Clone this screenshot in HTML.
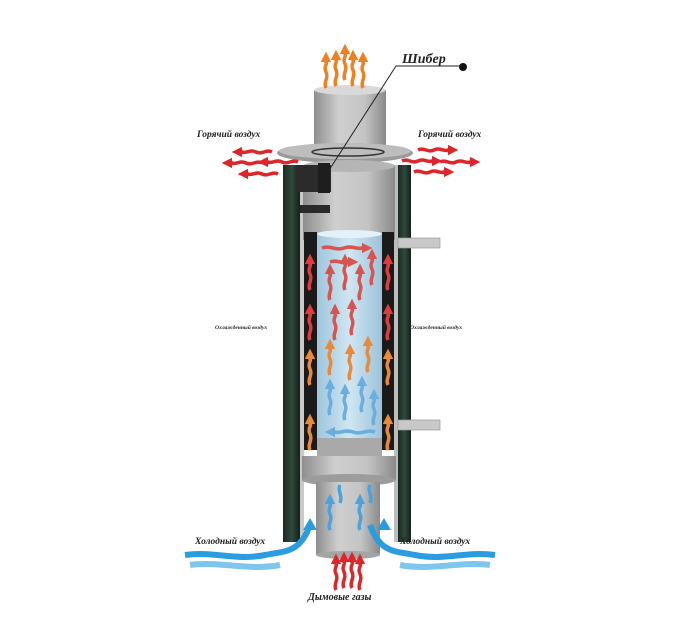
<!DOCTYPE html>
<html><head><meta charset="utf-8"><style>
html,body{margin:0;padding:0;background:#fff;width:700px;height:643px;overflow:hidden}
svg{display:block}
text{font-family:"Liberation Serif",serif;font-style:italic;font-weight:bold;fill:#222}
</style></head><body>
<svg width="700" height="643" viewBox="0 0 700 643" xmlns="http://www.w3.org/2000/svg">
<defs>
<linearGradient id="gr" x1="0" x2="1"><stop offset="0" stop-color="#8e8e8e"/><stop offset="0.35" stop-color="#cfcfcf"/><stop offset="0.7" stop-color="#c4c4c4"/><stop offset="1" stop-color="#8a8a8a"/></linearGradient>
<linearGradient id="gl" x1="0" x2="1"><stop offset="0" stop-color="#9fc6dc"/><stop offset="0.5" stop-color="#cfe6f2"/><stop offset="1" stop-color="#9cc3da"/></linearGradient>
<linearGradient id="dk" x1="0" x2="1"><stop offset="0" stop-color="#1b2a22"/><stop offset="0.5" stop-color="#2f4a3c"/><stop offset="1" stop-color="#15201a"/></linearGradient>
<marker id="ar" viewBox="0 0 10 10" refX="3" refY="5" markerWidth="3" markerHeight="3" orient="auto"><path d="M0,0L10,5L0,10z" fill="context-stroke"/></marker>
<g id="up"><path d="M0,0 c-3,-6 3,-10 0,-16 c-3,-6 2,-8 0,-10 l0,-3" fill="none" stroke-width="3.5" marker-end="url(#ar)"/></g>
<g id="wl"><path d="M0,0 c-6,-3 -10,3 -16,0 c-6,-3 -10,2 -14,0 l-3,0" fill="none" stroke-width="3.5" marker-end="url(#ar)"/></g>
<g id="wr"><path d="M0,0 c6,-3 10,3 16,0 c6,-3 10,2 14,0 l3,0" fill="none" stroke-width="3.5" marker-end="url(#ar)"/></g>
</defs>

<rect x="283" y="165" width="17" height="377" fill="url(#dk)"/>
<rect x="398" y="165" width="13" height="377" fill="url(#dk)"/>
<rect x="300" y="165" width="4" height="377" fill="#c9c9c9"/>
<rect x="394" y="165" width="4" height="377" fill="#bdbdbd"/>

<rect x="314" y="90" width="72" height="65" fill="url(#gr)"/>
<ellipse cx="350" cy="90" rx="36" ry="5" fill="#d9d9d9"/>
<ellipse cx="345" cy="153" rx="68" ry="10" fill="#9a9a9a"/>
<ellipse cx="345" cy="151" rx="66" ry="8" fill="#bdbdbd"/>
<ellipse cx="348" cy="152" rx="36" ry="4" fill="none" stroke="#333" stroke-width="1.5"/>

<path d="M303,165 L395,165 L395,240 L303,240 Z" fill="url(#gr)"/>
<ellipse cx="349" cy="166" rx="46" ry="6" fill="#b5b5b5"/>
<rect x="300" y="205" width="30" height="8" fill="#2a2a2a"/>
<rect x="296" y="165" width="35" height="27" fill="#2b2b2b"/>
<rect x="318" y="163" width="12" height="30" fill="#1e1e1e"/>

<rect x="304" y="232" width="13" height="218" fill="#1a1a1a"/>
<rect x="382" y="232" width="12" height="218" fill="#1a1a1a"/>
<rect x="317" y="232" width="65" height="210" fill="url(#gl)"/>
<ellipse cx="349.5" cy="234" rx="32.5" ry="4" fill="#e4f2f8"/>
<rect x="317" y="438" width="65" height="20" fill="#a9a9a9"/>

<rect x="398" y="238" width="42" height="10" fill="#c8c8c8" stroke="#999" stroke-width="0.7"/>
<rect x="398" y="420" width="42" height="10" fill="#c8c8c8" stroke="#999" stroke-width="0.7"/>

<rect x="302" y="456" width="94" height="24" fill="url(#gr)"/>
<ellipse cx="349" cy="480" rx="47" ry="6" fill="#9c9c9c"/>
<rect x="316" y="482" width="64" height="73" fill="url(#gr)"/>
<ellipse cx="348" cy="555" rx="32" ry="4" fill="#a5a5a5"/>

<g stroke="#d9534f">
<use href="#up" x="330" y="300"/><use href="#up" x="345" y="290"/><use href="#up" x="360" y="300"/><use href="#up" x="372" y="285"/>
<use href="#up" x="335" y="340"/><use href="#up" x="352" y="335"/>
</g>
<g stroke="#d9534f"><path d="M322,248 c8,-3 14,3 22,0 c8,-3 14,2 18,0 l3,0" fill="none" stroke-width="3.5" marker-end="url(#ar)"/><path d="M330,262 c8,-3 14,3 18,0 l3,0" fill="none" stroke-width="3.5" marker-end="url(#ar)"/></g>
<g stroke="#e98a3a"><use href="#up" x="330" y="375"/><use href="#up" x="350" y="380"/><use href="#up" x="368" y="372"/></g>
<g stroke="#6aaedf"><use href="#up" x="330" y="415"/><use href="#up" x="345" y="420"/><use href="#up" x="362" y="412"/><use href="#up" x="374" y="425"/></g>
<g stroke="#6aaedf"><path d="M375,432 c-8,-3 -14,3 -22,0 c-8,-3 -14,2 -18,0 l-3,0" fill="none" stroke-width="3.5" marker-end="url(#ar)"/></g>
<g stroke="#e23b3b"><use href="#up" x="310" y="290"/><use href="#up" x="310" y="340"/><use href="#up" x="388" y="290"/><use href="#up" x="388" y="340"/></g>
<g stroke="#e98a3a"><use href="#up" x="310" y="385"/><use href="#up" x="388" y="385"/><use href="#up" x="310" y="450"/><use href="#up" x="388" y="450"/></g>
<g stroke="#4aa3df"><use href="#up" x="330" y="530"/><use href="#up" x="360" y="530"/><path d="M340,485 c-3,6 3,10 0,18" fill="none" stroke-width="3.5"/><path d="M370,485 c-3,6 3,10 0,18" fill="none" stroke-width="3.5"/></g>
<g stroke="#f07f22"><use href="#up" x="326" y="88"/><use href="#up" x="336" y="86"/><use href="#up" x="345" y="80"/><use href="#up" x="353" y="86"/><use href="#up" x="363" y="88"/></g>
<g stroke="#e0252a"><use href="#up" x="336" y="590"/><use href="#up" x="344" y="588"/><use href="#up" x="352" y="588"/><use href="#up" x="360" y="590"/></g>
<g stroke="#e0252a">
<use href="#wl" x="272" y="152"/><use href="#wl" x="262" y="163"/><use href="#wl" x="278" y="174"/><use href="#wl" x="298" y="162"/>
<use href="#wr" x="418" y="150"/><use href="#wr" x="440" y="162"/><use href="#wr" x="414" y="172"/><use href="#wr" x="402" y="161"/>
</g>
<g fill="none" stroke-width="6">
<path d="M185,555 c30,-4 50,6 80,0 c20,-4 35,-2 45,-30" stroke="#2a9de0"/>
<path d="M190,565 c30,-4 60,6 90,0" stroke="#7ec6ee"/>
<path d="M495,555 c-30,-4 -50,6 -80,0 c-20,-4 -35,-2 -45,-30" stroke="#2a9de0"/>
<path d="M490,565 c-30,-4 -60,6 -90,0" stroke="#7ec6ee"/>
</g>
<path d="M303,530 l7,-12 l7,12z" fill="#2a9de0"/>
<path d="M377,530 l7,-12 l7,12z" fill="#2a9de0"/>

<path d="M324,178 L396,66 L463,66" fill="none" stroke="#222" stroke-width="1"/>
<circle cx="463" cy="67" r="4" fill="#111"/>
<text x="402" y="63" font-size="14">Шибер</text>
<text x="197" y="137" font-size="9.5">Горячий воздух</text>
<text x="418" y="137" font-size="9.5">Горячий воздух</text>
<text x="215" y="329" font-size="5.5">Охлажденный воздух</text>
<text x="410" y="329" font-size="5.5">Охлажденный воздух</text>
<text x="195" y="544" font-size="9.5">Холодный воздух</text>
<text x="400" y="544" font-size="9.5">Холодный воздух</text>
<text x="308" y="600" font-size="10">Дымовые газы</text>
</svg>
</body></html>
